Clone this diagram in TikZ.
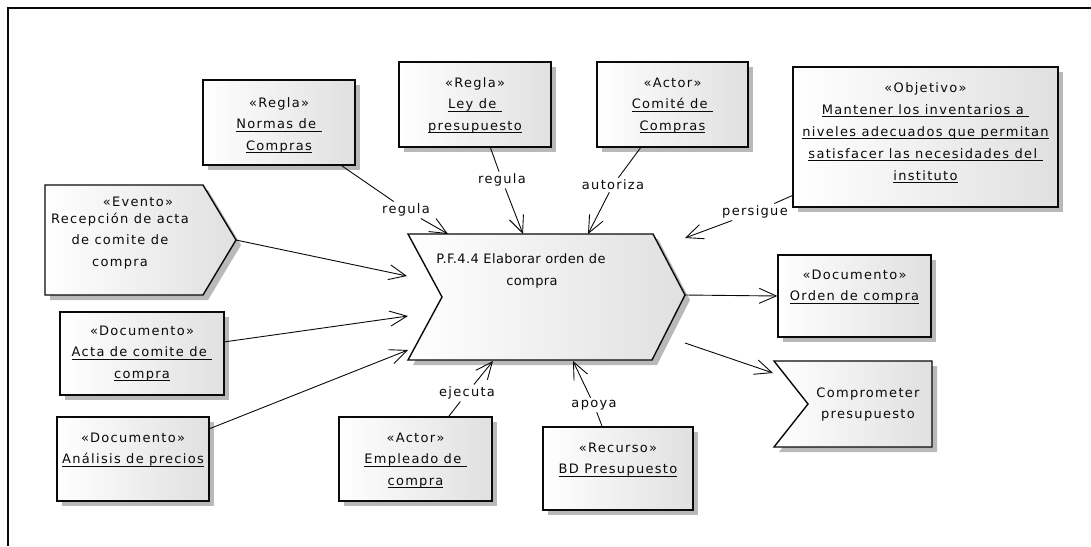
\documentclass[tikz,border=0pt]{standalone}
\usepackage{fontspec}
\newfontfamily\dg[LetterSpace=10]{DejaVu Sans}
\newfontfamily\dgh[LetterSpace=3]{DejaVu Sans}
\usetikzlibrary{arrows.meta,shadows}
\definecolor{boxgray}{RGB}{224,224,224}
\definecolor{shadowgray}{RGB}{185,185,185}
\definecolor{ink}{RGB}{10,10,10}
\newsavebox\ulbox
\newcommand\ul[1]{\sbox\ulbox{#1}\rlap{\rule[-3pt]{\wd\ulbox}{0.8pt}}\usebox\ulbox}
\tikzset{
  box/.style={draw=ink, line width=1.4pt, rectangle, inner sep=0pt,
    left color=white, middle color=white, right color=boxgray,
    drop shadow={shadow xshift=5pt, shadow yshift=-5pt, fill=shadowgray, opacity=1}},
  outline/.style={draw=ink, line width=1.4pt, line join=miter,
    left color=white, middle color=white, right color=boxgray},
  shadowfill/.style={fill=shadowgray, shift={(5,5)}},
  % anchor=base sits on the baseline of the last line
  txt/.style={font=\dg\fontsize{13}{21.5}\selectfont, align=center, inner sep=0pt, anchor=base, text=ink},
  lbl/.style={font=\dg\fontsize{13}{15}\selectfont, inner sep=2pt, text=ink},
  conn/.style={draw=ink, line width=0.9pt},
  arr/.style={conn, -{Straight Barb[length=17pt,width=15pt]}},
}
\begin{document}
\begin{tikzpicture}[x=1pt,y=-1pt]
\useasboundingbox (0,0) rectangle (1091,546);
\fill[white] (0,0) rectangle (1091,546);
% frame
\draw[ink, line width=2pt] (8,546) -- (8,8) -- (1091,8);

% rectangular elements
\node[box, minimum width=152pt, minimum height=85pt] (normas) at (279,122.5) {};
\node[box, minimum width=152pt, minimum height=85pt] (ley) at (475,104.5) {};
\node[box, minimum width=151pt, minimum height=85pt] (comite) at (672.5,104.5) {};
\node[box, minimum width=265pt, minimum height=140pt] (objetivo) at (925.5,137) {};
\node[box, minimum width=164pt, minimum height=83pt] (acta) at (142,353.5) {};
\node[box, minimum width=152pt, minimum height=84pt] (analisis) at (133,459) {};
\node[box, minimum width=153pt, minimum height=84pt] (empleado) at (415.5,459) {};
\node[box, minimum width=150pt, minimum height=83pt] (bd) at (618,468.5) {};
\node[box, minimum width=153pt, minimum height=82pt] (orden) at (854.5,296) {};

% event (pentagon)
\fill[shadowfill] (45,185) -- (203,185) -- (236,240) -- (203,295) -- (45,295) -- cycle;
\path[outline] (45,185) -- (203,185) -- (236,240) -- (203,295) -- (45,295) -- cycle;
% process (chevron)
\fill[shadowfill] (408,234) -- (653,234) -- (685,295) -- (652,360) -- (408,360) -- (442,297) -- cycle;
\path[outline] (408,234) -- (653,234) -- (685,295) -- (652,360) -- (408,360) -- (442,297) -- cycle;
% output event (flag)
\fill[shadowfill] (774,361) -- (932,361) -- (932,447) -- (774,447) -- (808,404) -- cycle;
\path[outline] (774,361) -- (932,361) -- (932,447) -- (774,447) -- (808,404) -- cycle;

% texts
\node[txt] (t-normas) at (279,150) {«Regla»\\\ul{Normas de\ }\\\ul{Compras}};
\node[txt] (t-ley) at (475,130) {«Regla»\\\ul{Ley de\ }\\\ul{presupuesto}};
\node[txt] (t-comite) at (672.5,130) {«Actor»\\\ul{Comité de\ }\\\ul{Compras}};
\node[txt, font=\dg\fontsize{13}{22}\selectfont] (t-obj) at (925.5,180) {«Objetivo»\\\ul{Mantener los inventarios a\ }\\\ul{niveles adecuados que permitan}\\\ul{satisfacer las necesidades del\ }\\\ul{instituto}};
\node[txt] (t-acta) at (142,378) {«Documento»\\\ul{Acta de comite de\ }\\\ul{compra}};
\node[txt] (t-anal) at (133,463.5) {«Documento»\\\ul{Análisis de precios}};
\node[txt] (t-emp) at (415.5,485) {«Actor»\\\ul{Empleado de\ }\\\ul{compra}};
\node[txt] (t-bd) at (618,473.5) {«Recurso»\\\ul{BD Presupuesto}};
\node[txt] (t-orden) at (854.5,300.5) {«Documento»\\\ul{Orden de compra}};
\node[txt] (t-ev1) at (138,206) {«Evento»};
\node[txt] (t-ev2) at (120,266) {Recepción de acta\\de comite de\\compra};
\node[txt, font=\dgh\fontsize{13}{22}\selectfont] (t-proc) at (532,285) {P.F.4.4 Elaborar orden de\hspace*{22pt}\\compra};
\node[txt] (t-comp) at (868,418.5) {Comprometer\\presupuesto};

% connection points
\coordinate (ev-tip) at (236,240);
\coordinate (h-normas) at (448,234);
\coordinate (h-ley) at (523,234);
\coordinate (h-comite) at (588,234);
\coordinate (h-obj) at (685,238);
\coordinate (h-ev) at (407,276);
\coordinate (h-acta) at (408,316);
\coordinate (h-anal) at (408,350);
\coordinate (h-emp) at (493,361);
\coordinate (h-bd) at (573,361);
\coordinate (h-tip) at (685,295);
\coordinate (h-out) at (685,343);
\coordinate (fl-in) at (773,373);

% labels
\node[lbl] (l-normas) at (406,210) {regula};
\node[lbl] (l-ley) at (502,180) {regula};
\node[lbl] (l-comite) at (613,185) {autoriza};
\node[lbl] (l-obj) at (755,212) {persigue};
\node[lbl] (l-emp) at (467,393) {ejecuta};
\node[lbl] (l-bd) at (594,405) {apoya};

% connectors
\draw[conn] (normas) -- (l-normas);
\draw[arr] (l-normas) -- (h-normas);
\draw[conn] (ley) -- (l-ley);
\draw[arr] (l-ley) -- (h-ley);
\draw[conn] (comite) -- (l-comite);
\draw[arr] (l-comite) -- (h-comite);
\draw[conn] (objetivo) -- (l-obj);
\draw[arr] (l-obj) -- (h-obj);
\draw[conn] (empleado) -- (l-emp);
\draw[arr] (l-emp) -- (h-emp);
\draw[conn] (bd) -- (l-bd);
\draw[arr] (l-bd) -- (h-bd);
\draw[arr] (ev-tip) -- (h-ev);
\draw[arr] (acta) -- (h-acta);
\draw[arr] (analisis) -- (h-anal);
\draw[arr] (h-tip) -- (orden.west);
\draw[arr] (h-out) -- (fl-in);
\end{tikzpicture}
\end{document}
